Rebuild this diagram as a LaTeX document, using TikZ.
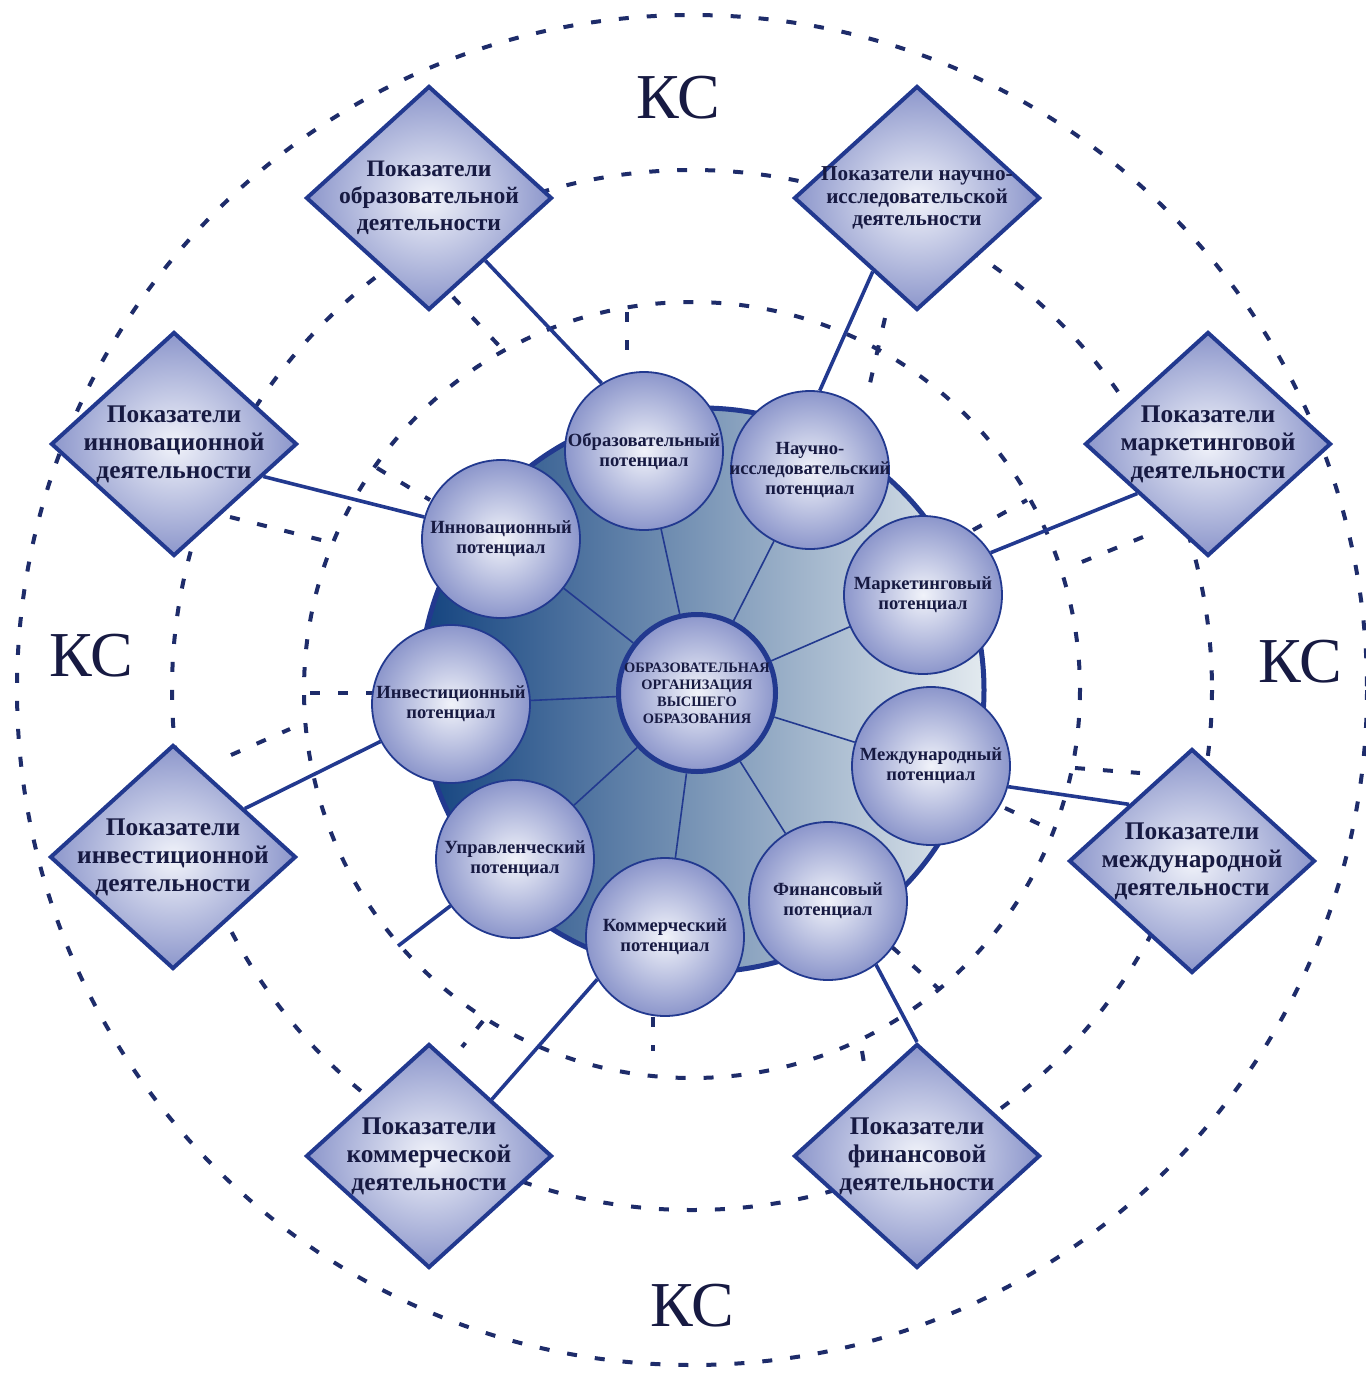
\documentclass[tikz,border=0pt]{standalone}
\usepackage{fontspec}
\setmainfont{Liberation Serif}
\usetikzlibrary{shapes.geometric,backgrounds}
\definecolor{navy}{HTML}{22398F}
\definecolor{ringc}{HTML}{1E2C6A}
\definecolor{ink}{HTML}{171A42}
\definecolor{lav}{HTML}{8C96CB}
\definecolor{lavin}{HTML}{F1F3FA}
\definecolor{diskl}{HTML}{13437F}
\definecolor{diskm}{HTML}{7896B4}
\definecolor{diskr}{HTML}{E3EAEF}

\begin{document}
\begin{tikzpicture}[
  x=0.5pt, y=-0.5pt,
  ring/.style={draw=ringc, line width=2pt, dash pattern=on 5pt off 9pt},
  pot/.style={circle, draw=navy, line width=0.9pt, minimum size=79pt, inner sep=-3pt, align=center,
    inner color=lavin, outer color=lav, text=ink, font=\fontsize{9.3pt}{10pt}\selectfont\bfseries},
  core/.style={circle, draw=navy, line width=2.5pt, minimum size=78.5pt, inner sep=-4pt, align=center,
    inner color=lavin, outer color=lav, text=ink, font=\fontsize{7.2pt}{8.5pt}\selectfont\bfseries},
  ind/.style={diamond, draw=navy, line width=2pt, minimum width=123pt, minimum height=112pt, inner sep=-14pt,
    align=center, inner color=lavin, outer color=lav, text=ink,
    font=\fontsize{12.7pt}{14pt}\selectfont\bfseries},
  disk/.style={circle, draw=navy, line width=2.5pt, minimum size=282pt, left color=diskl, middle color=diskm, right color=diskr},
  spoke/.style={draw=navy, line width=0.8pt},
  link/.style={draw=navy, line width=1.8pt},
  ks/.style={text=ink, font=\fontsize{32pt}{32pt}\selectfont}
]
\useasboundingbox (0,0) rectangle (1366,1377);
% centre
\node[core] (core) at (697,693) {ОБРАЗОВАТЕЛЬНАЯ\\ОРГАНИЗАЦИЯ\\ВЫСШЕГО\\ОБРАЗОВАНИЯ};
% potentials
\foreach \n/\x/\y/\t in {obr/644/451/{Образовательный\\потенциал},
  nau/810/470/{Научно-\\исследовательский\\потенциал},
  mar/923/595/{Маркетинговый\\потенциал},
  mez/931/766/{Международный\\потенциал},
  fin/828/901/{Финансовый\\потенциал},
  kom/665/937/{Коммерческий\\потенциал},
  upr/515/859/{Управленческий\\потенциал},
  inv/451/704/{Инвестиционный\\потенциал},
  inn/501/539/{Инновационный\\потенциал}} {
  \node[pot] (\n) at (\x,\y) {\t};
}
% indicators
\node[ind, font=\fontsize{11.8pt}{13.5pt}\selectfont\bfseries] (dObr) at (429,198) {Показатели\\образовательной\\деятельности};
\node[ind, font=\fontsize{10.6pt}{11.3pt}\selectfont\bfseries] (dNau) at (917,198) {Показатели научно-\\исследовательской\\деятельности};
\node[ind] (dMar) at (1208,444) {Показатели\\маркетинговой\\деятельности};
\node[ind] (dInn) at (174,444) {Показатели\\инновационной\\деятельности};
\node[ind] (dInv) at (173,857) {Показатели\\инвестиционной\\деятельности};
\node[ind] (dMez) at (1192,861) {Показатели\\международной\\деятельности};
\node[ind] (dKom) at (429,1156) {Показатели\\коммерческой\\деятельности};
\node[ind] (dFin) at (917,1156) {Показатели\\финансовой\\деятельности};
% KC
\node[ks] (ksT) at (678,98) {КС};
\node[ks] (ksL) at (91,656) {КС};
\node[ks] (ksR) at (1300,662) {КС};
\node[ks] (ksB) at (692,1306) {КС};
\coordinate (uprEnd) at (398,946);

\begin{scope}[on background layer]
% rings
\foreach \r in {388,520,675} { \draw[ring] (692,690) circle[radius=\r]; }
\foreach \a/\b/\c/\d in {453/297/505/352, 627/312/627/350, 885/318/868/392, 973/530/1027/500,
  1143/537/1067/568, 1075/768/1140/773, 1005/808/1052/830, 892/947/940/990, 862/1051/866/1075,
  483/1021/462/1047, 653/1017/653/1051, 231/755/290/729, 310/693/372/693, 377/468/430/500, 230/517/333/543} {
  \draw[ring] (\a,\b) -- (\c,\d);
}
\node[disk] (disk) at (702,690) {};
\foreach \n in {obr,nau,mar,mez,fin,kom,upr,inv,inn} { \draw[spoke] (core) -- (\n); }
\foreach \c/\s/\d/\e in {obr/122/dObr/-48, nau/83/dNau/239, mar/32/dMar/215, mez/-15/dMez/138,
  fin/-53/dFin/90, kom/212/dKom/42, inv/208/dInv/34, inn/164/dInn/-20} {
  \draw[link] (\c.\s) -- (\d.\e);
}
\draw[link] (upr.216) -- (uprEnd);
\end{scope}
\end{tikzpicture}
\end{document}
